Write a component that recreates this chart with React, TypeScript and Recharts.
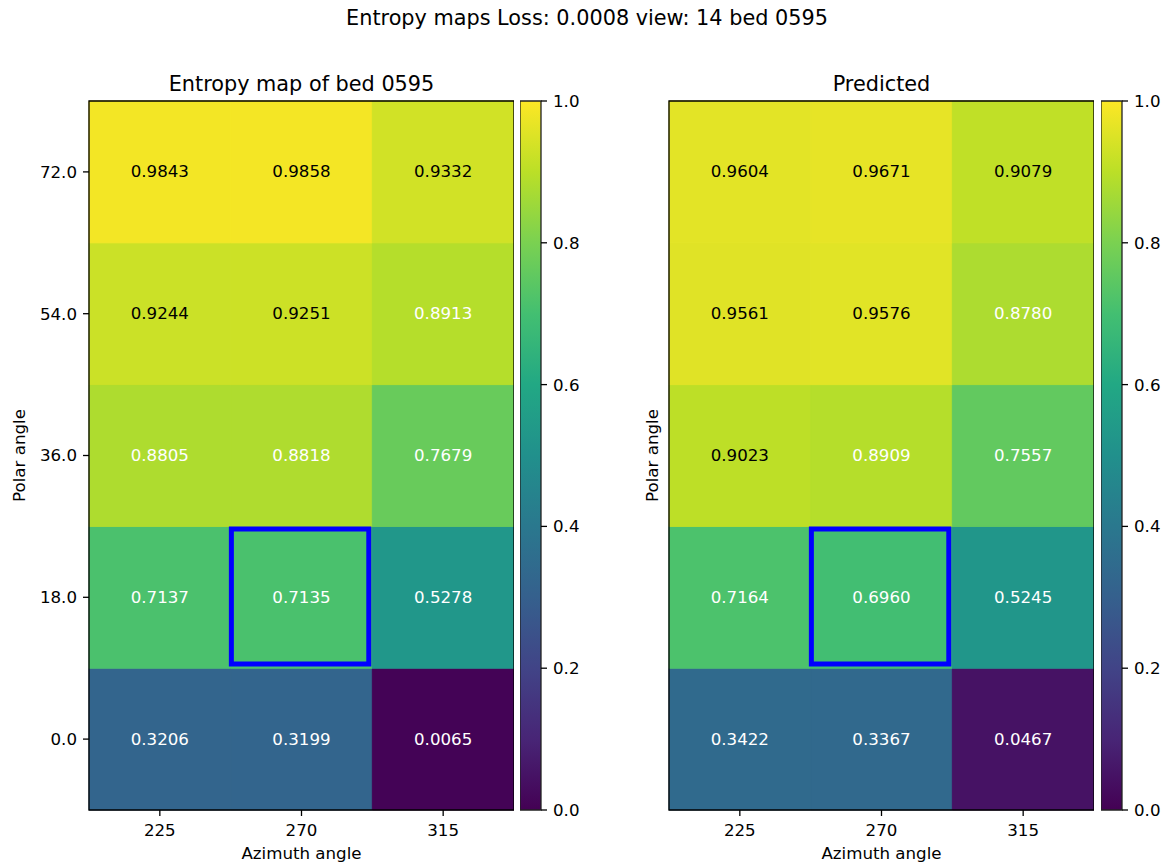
import React from "react";
import {
  ScatterChart,
  Scatter,
  XAxis,
  YAxis,
  ReferenceArea,
} from "recharts";

const azimuth = [225, 270, 315];
const polar = [0.0, 18.0, 36.0, 54.0, 72.0];

// rows go bottom (polar 0.0) to top (polar 72.0), columns follow azimuth
const truthRows = [
  [0.3206, 0.3199, 0.0065],
  [0.7137, 0.7135, 0.5278],
  [0.8805, 0.8818, 0.7679],
  [0.9244, 0.9251, 0.8913],
  [0.9843, 0.9858, 0.9332],
];
const predRows = [
  [0.3422, 0.3367, 0.0467],
  [0.7164, 0.696, 0.5245],
  [0.9023, 0.8909, 0.7557],
  [0.9561, 0.9576, 0.878],
  [0.9604, 0.9671, 0.9079],
];

// highlighted view (azimuth index, polar index)
const viewCell = { col: 1, row: 1 };

const colorbarTicks = [0, 0.2, 0.4, 0.6, 0.8, 1.0];

const viridis = [
  "#440154", "#482576", "#414487", "#35608d", "#2a788e", "#21908c",
  "#22a884", "#43bf71", "#7ad151", "#bbdf27", "#fde725",
];

const hex = (h: string) => [1, 3, 5].map((i) => parseInt(h.slice(i, i + 2), 16));

function viridisColor(v: number) {
  const t = Math.min(1, Math.max(0, v)) * (viridis.length - 1);
  const i = Math.min(viridis.length - 2, Math.floor(t));
  const f = t - i;
  const a = hex(viridis[i]);
  const b = hex(viridis[i + 1]);
  const c = a.map((x, k) => Math.round(x + (b[k] - x) * f));
  return `rgb(${c[0]},${c[1]},${c[2]})`;
}

const FONT = "'DejaVu Sans', sans-serif";
const FS = 16.67;
const TOP = 101;
const BOTTOM_AXIS = 57;
const H = 867;

const toCells = (rows: number[][]) =>
  rows.flatMap((r, j) => r.map((v, i) => ({ x: i, y: j, v })));

const CellText = (props: any) => {
  const { cx, cy, payload } = props;
  if (cx == null || cy == null) return <g />;
  return (
    <text
      x={cx}
      y={cy}
      textAnchor="middle"
      dominantBaseline="central"
      fontSize={FS}
      fontFamily={FONT}
      fill={payload.v > 0.9 ? "#000" : "#fff"}
    >
      {payload.v.toFixed(4)}
    </text>
  );
};

function Heatmap({
  rows,
  left,
  yAxisWidth,
  showYTicks,
  labelOffset,
}: {
  rows: number[][];
  left: number;
  yAxisWidth: number;
  showYTicks: boolean;
  labelOffset: number;
}) {
  const cells = toCells(rows);
  const width = yAxisWidth + 425;
  return (
    <div style={{ position: "absolute", left, top: 0 }}>
      <ScatterChart
        width={width}
        height={H}
        margin={{ top: TOP, right: 0, bottom: 0, left: 0 }}
      >
        <XAxis
          type="number"
          dataKey="x"
          domain={[-0.5, 2.5]}
          ticks={[0, 1, 2]}
          tickFormatter={(i: number) => String(azimuth[i])}
          height={BOTTOM_AXIS}
          axisLine={false}
          tickSize={6}
          tickMargin={8}
          tickLine={{ stroke: "#000", strokeWidth: 1.3 }}
          tick={{ fontSize: FS, fill: "#000", fontFamily: FONT }}
          label={{
            value: "Azimuth angle",
            position: "insideBottom",
            offset: 8,
            fontSize: FS,
            fill: "#000",
            fontFamily: FONT,
          }}
        />
        <YAxis
          type="number"
          dataKey="y"
          domain={[-0.5, 4.5]}
          ticks={[0, 1, 2, 3, 4]}
          tickFormatter={(j: number) => polar[j].toFixed(1)}
          width={yAxisWidth}
          axisLine={false}
          tickSize={6}
          tickMargin={6}
          tickLine={{ stroke: "#000", strokeWidth: 1.3 }}
          tick={showYTicks ? { fontSize: FS, fill: "#000", fontFamily: FONT } : false}
          label={{
            value: "Polar angle",
            angle: -90,
            position: "insideLeft",
            offset: labelOffset,
            fontSize: FS,
            fill: "#000",
            fontFamily: FONT,
            style: { textAnchor: "middle" },
          }}
        />
        {cells.map((c) => (
          <ReferenceArea
            key={`c-${c.x}-${c.y}`}
            x1={c.x - 0.5}
            x2={c.x + 0.5}
            y1={c.y - 0.5}
            y2={c.y + 0.5}
            fill={viridisColor(c.v)}
            fillOpacity={1}
            stroke={viridisColor(c.v)}
            strokeWidth={1}
          />
        ))}
        <ReferenceArea
          x1={viewCell.col - 0.495}
          x2={viewCell.col + 0.475}
          y1={viewCell.row - 0.47}
          y2={viewCell.row + 0.482}
          fill="none"
          stroke="#0000ff"
          strokeWidth={5}
        />
        <ReferenceArea
          x1={-0.5}
          x2={2.5}
          y1={-0.5}
          y2={4.5}
          fill="none"
          stroke="#000"
          strokeWidth={1.3}
        />
        <Scatter data={cells} shape={<CellText />} isAnimationActive={false} />
      </ScatterChart>
    </div>
  );
}

function Colorbar({ left, id }: { left: number; id: string }) {
  return (
    <div style={{ position: "absolute", left, top: 0 }}>
      <ScatterChart
        width={21 + 60}
        height={H}
        margin={{ top: TOP, right: 0, bottom: BOTTOM_AXIS, left: 0 }}
      >
        <defs>
          <linearGradient id={id} x1="0" y1="1" x2="0" y2="0">
            {viridis.map((c, i) => (
              <stop key={c} offset={`${(i / (viridis.length - 1)) * 100}%`} stopColor={c} />
            ))}
          </linearGradient>
        </defs>
        <XAxis type="number" dataKey="x" domain={[0, 1]} hide />
        <YAxis
          type="number"
          dataKey="y"
          orientation="right"
          domain={[0, 1]}
          ticks={colorbarTicks}
          tickFormatter={(v: number) => v.toFixed(1)}
          width={60}
          axisLine={false}
          tickSize={6}
          tickMargin={6}
          tickLine={{ stroke: "#000", strokeWidth: 1.3 }}
          tick={{ fontSize: FS, fill: "#000", fontFamily: FONT, textAnchor: "start" }}
        />
        <ReferenceArea
          x1={0}
          x2={1}
          y1={0}
          y2={1}
          fill={`url(#${id})`}
          fillOpacity={1}
          stroke="#222"
          strokeWidth={1.3}
        />
        <Scatter data={[{ x: 0.5, y: 0.5 }]} shape={() => <g />} isAnimationActive={false} />
      </ScatterChart>
    </div>
  );
}

const titleStyle = (cx: number, cy: number): React.CSSProperties => ({
  position: "absolute",
  left: cx - 400,
  width: 800,
  top: cy - 12,
  lineHeight: "24px",
  textAlign: "center",
  fontSize: 20.8,
  fontFamily: FONT,
  color: "#000",
  whiteSpace: "nowrap",
});

export default function App() {
  return (
    <div
      style={{
        position: "absolute",
        left: 0,
        top: 0,
        width: 1167,
        height: 867,
        background: "#fff",
        fontFamily: FONT,
        overflow: "hidden",
      }}
    >
      <div style={titleStyle(587, 18)}>Entropy maps Loss: 0.0008 view: 14 bed 0595</div>
      <div style={titleStyle(301.5, 84)}>Entropy map of bed 0595</div>
      <div style={titleStyle(881.5, 84)}>Predicted</div>
      <Heatmap rows={truthRows} left={0} yAxisWidth={89} showYTicks labelOffset={19} />
      <Colorbar left={520} id="viridis-left" />
      <Heatmap rows={predRows} left={580} yAxisWidth={89} showYTicks={false} labelOffset={72} />
      <Colorbar left={1101} id="viridis-right" />
    </div>
  );
}
